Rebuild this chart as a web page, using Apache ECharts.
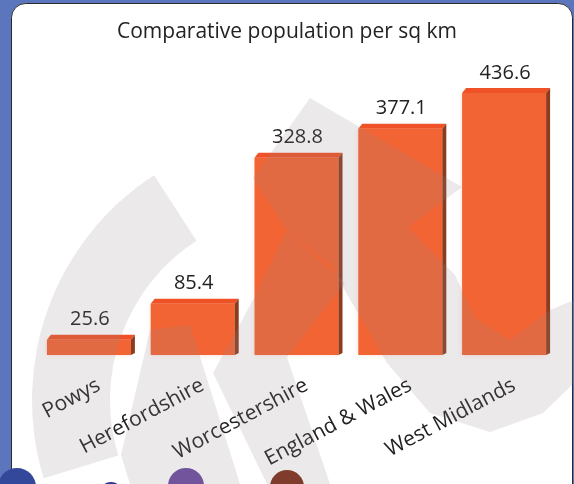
<!DOCTYPE html>
<html><head><meta charset="utf-8">
<script src="https://cdn.jsdelivr.net/npm/echarts@6/dist/echarts.min.js"></script>
<style>html,body{margin:0;padding:0;background:#5b76bc;overflow:hidden}#c{width:574px;height:484px}</style>
</head><body><div id="c"></div>
<script>
// ---- data ----
const chartTitle = 'Comparative population per sq km';
const categories = ['Powys', 'Herefordshire', 'Worcestershire', 'England & Wales', 'West Midlands'];
const values = [25.6, 85.4, 328.8, 377.1, 436.6];
const valueLabels = ['25.6', '85.4', '328.8', '377.1', '436.6'];

// ---- style ----
const FRONT = '#f26434', TOP = '#ee5226', SIDE = '#8c3b1d';
const BW = 84, DX = 4, DY = 5;
const FONT = '"Open Sans", "Noto Sans", sans-serif';
const WM = 'rgba(150,135,140,0.18)';

const chart = echarts.init(document.getElementById('c'), null, { renderer: 'canvas' });

function renderBar(params, api) {
  const i = api.value(0), v = api.value(1);
  const b = api.coord([i, 0]), t = api.coord([i, v]);
  const x0 = b[0] - (BW + DX) / 2, x1 = x0 + BW, yb = b[1], yt = t[1];
  return {
    type: 'group',
    children: [
      { type: 'rect', shape: { x: x0, y: yt, width: BW, height: yb - yt },
        style: { fill: FRONT, shadowBlur: 5, shadowColor: 'rgba(240,120,70,0.3)' } },
      { type: 'polygon', shape: { points: [[x0, yt], [x0 + DX, yt - DY], [x1 + DX, yt - DY], [x1, yt]] },
        style: { fill: TOP } },
      { type: 'polygon', shape: { points: [[x1, yt], [x1 + DX, yt - DY], [x1 + DX, yb - 2], [x1, yb]] },
        style: { fill: SIDE } },
      { type: 'text', x: x0 + BW / 2 + 1, y: yt - DY - 5,
        style: { text: valueLabels[i], fill: '#222', font: '20px ' + FONT, align: 'center', verticalAlign: 'bottom' } }
    ]
  };
}

const D = Math.PI / 180;
function wmPoly(points) {
  return { type: 'polygon', z: 100, silent: true, shape: { points: points }, style: { fill: WM } };
}
chart.setOption({
  backgroundColor: '#5b76bc',
  animation: false,
  title: {
    text: chartTitle, left: 'center', top: 17,
    textStyle: { fontFamily: FONT, fontSize: 21, fontWeight: 'normal', color: '#222' }
  },
  grid: [
    { left: 39, right: 16, top: 85, bottom: 129 },
    { left: 47, right: 8, top: 85, bottom: 129 }
  ],
  xAxis: [
    { type: 'category', data: categories, gridIndex: 0,
      axisLine: { show: false }, axisTick: { show: false }, axisLabel: { show: false } },
    { type: 'category', data: categories, gridIndex: 1,
      axisLine: { show: false }, axisTick: { show: false },
      axisLabel: { rotate: 28, margin: 29, interval: 0, color: '#222', fontFamily: FONT, fontSize: 21 } }
  ],
  yAxis: [
    { type: 'value', min: 0, max: 450, show: false, splitLine: { show: false }, gridIndex: 0 },
    { type: 'value', min: 0, max: 450, show: false, splitLine: { show: false }, gridIndex: 1 }
  ],
  graphic: [
    { type: 'rect', z: -10, shape: { x: 11.5, y: 3.5, width: 561, height: 540, r: 14 },
      style: { fill: '#ffffff', stroke: '#2b2b2b', lineWidth: 1 } },
    // bottom decorative circles
    { type: 'circle', z: -5, shape: { cx: 17, cy: 487, r: 19 }, style: { fill: '#33479b' } },
    { type: 'circle', z: -5, shape: { cx: 111, cy: 494, r: 12 }, style: { fill: '#2c3689' } },
    { type: 'circle', z: -5, shape: { cx: 186, cy: 486, r: 18 }, style: { fill: '#6a4a9f' } },
    { type: 'circle', z: -5, shape: { cx: 287, cy: 487, r: 17 }, style: { fill: '#7a2d18' } },
    // watermark (translucent, over everything)
    { type: 'sector', z: 100, silent: true,
      shape: { cx: 300, cy: 400, r0: 190, r: 268, startAngle: 163 * D, endAngle: 237 * D, clockwise: true },
      style: { fill: WM } },
    wmPoly([[121, 455], [150, 330], [190, 325], [240, 484], [130, 484]]),
    wmPoly([[213, 373], [253, 300], [287, 230], [345, 283], [287, 357], [330, 484], [267, 484]]),
    wmPoly([[310, 98], [462, 187], [408, 227], [455, 275], [475, 318], [510, 340], [550, 310], [574, 300],
            [574, 383], [543, 413], [490, 432], [430, 413], [387, 363], [330, 265], [287, 230], [253, 178]])
  ],
  series: [{
    type: 'custom',
    xAxisIndex: 0, yAxisIndex: 0,
    renderItem: renderBar,
    data: values.map((v, i) => [i, v]),
    encode: { x: 0, y: 1 }
  }]
});
</script>
</body></html>
